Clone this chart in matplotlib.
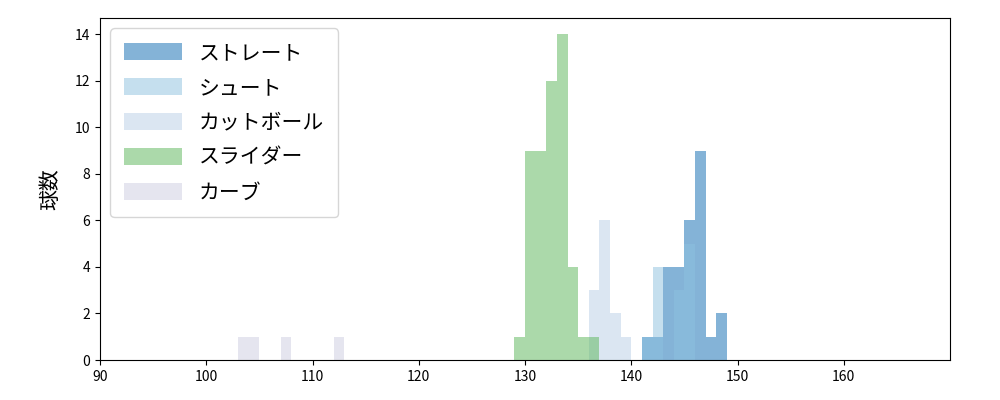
import numpy as np
import matplotlib
matplotlib.use("Agg")
import matplotlib.pyplot as plt

plt.rcParams['font.family'] = ['Noto Sans CJK JP', 'DejaVu Sans']

# Pitch types, bin start (km/h) and counts per 1 km/h bin
pitch_types = ["ストレート", "シュート", "カットボール", "スライダー", "カーブ"]

straight_bins = [141, 142, 143, 144, 145, 146, 147, 148]
straight_counts = [1, 1, 4, 4, 6, 9, 1, 2]

shoot_bins = [141, 142, 144, 145]
shoot_counts = [1, 4, 3, 5]

cutball_bins = [136, 137, 138, 139]
cutball_counts = [3, 6, 2, 1]

slider_bins = [129, 130, 131, 132, 133, 134, 135, 136]
slider_counts = [1, 9, 9, 12, 14, 4, 1, 1]

curve_bins = [103, 104, 107, 112]
curve_counts = [1, 1, 1, 1]

colors = ["#0b69b1", "#8dc1df", "#b9cfe7", "#59b557", "#cdcde1"]

series = [
    (straight_bins, straight_counts),
    (shoot_bins, shoot_counts),
    (cutball_bins, cutball_counts),
    (slider_bins, slider_counts),
    (curve_bins, curve_counts),
]

fig = plt.figure(figsize=(10, 4), dpi=100)
ax = fig.add_axes([0.1, 0.1, 0.85, 0.855])

for name, (bins, counts), color in zip(pitch_types, series, colors):
    ax.bar(bins, counts, width=1.0, align='edge', color=color, alpha=0.5,
           linewidth=0, label=name)

ax.set_xlim(90, 170)
ax.set_ylim(0, 14.7)
ax.set_xticks(np.arange(90, 170, 10))
ax.set_yticks(np.arange(0, 15, 2))
ax.tick_params(labelsize=10)
ax.set_ylabel("球数", fontsize=15, labelpad=10)

ax.legend(loc='upper left', fontsize=15, handlelength=2.8, handleheight=0.9,
          labelspacing=0.62, borderpad=0.65, borderaxespad=0.5)

fig.savefig("out.png", dpi=100)
